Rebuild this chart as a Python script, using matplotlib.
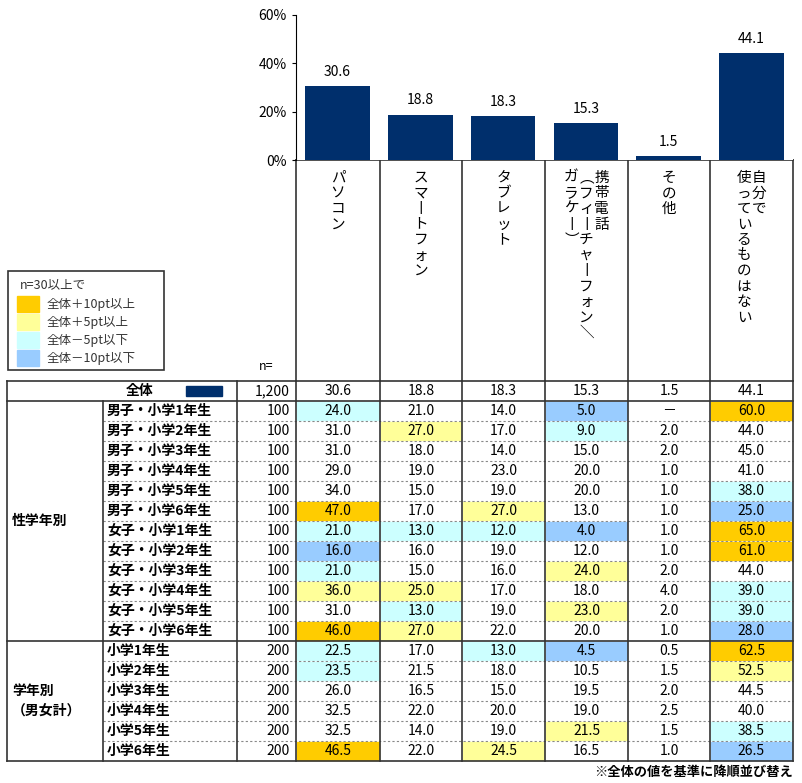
import matplotlib
matplotlib.use('Agg')
import matplotlib.pyplot as plt
from matplotlib.patches import Rectangle

plt.rcParams['font.family'] = ['Noto Sans CJK JP', 'DejaVu Sans']

categories = ['パソコン', 'スマートフォン', 'タブレット', '携帯電話\n（フィーチャーフォン／\nガラケー）', 'その他', '自分で\n使っているものはない']
total = [30.6, 18.8, 18.3, 15.3, 1.5, 44.1]
total_n = '1,200'
row_labels = ['男子・小学1年生', '男子・小学2年生', '男子・小学3年生', '男子・小学4年生', '男子・小学5年生', '男子・小学6年生',
              '女子・小学1年生', '女子・小学2年生', '女子・小学3年生', '女子・小学4年生', '女子・小学5年生', '女子・小学6年生',
              '小学1年生', '小学2年生', '小学3年生', '小学4年生', '小学5年生', '小学6年生']
row_n = [100] * 12 + [200] * 6
values = [
    [24.0, 21.0, 14.0, 5.0, None, 60.0],
    [31.0, 27.0, 17.0, 9.0, 2.0, 44.0],
    [31.0, 18.0, 14.0, 15.0, 2.0, 45.0],
    [29.0, 19.0, 23.0, 20.0, 1.0, 41.0],
    [34.0, 15.0, 19.0, 20.0, 1.0, 38.0],
    [47.0, 17.0, 27.0, 13.0, 1.0, 25.0],
    [21.0, 13.0, 12.0, 4.0, 1.0, 65.0],
    [16.0, 16.0, 19.0, 12.0, 1.0, 61.0],
    [21.0, 15.0, 16.0, 24.0, 2.0, 44.0],
    [36.0, 25.0, 17.0, 18.0, 4.0, 39.0],
    [31.0, 13.0, 19.0, 23.0, 2.0, 39.0],
    [46.0, 27.0, 22.0, 20.0, 1.0, 28.0],
    [22.5, 17.0, 13.0, 4.5, 0.5, 62.5],
    [23.5, 21.5, 18.0, 10.5, 1.5, 52.5],
    [26.0, 16.5, 15.0, 19.5, 2.0, 44.5],
    [32.5, 22.0, 20.0, 19.0, 2.5, 40.0],
    [32.5, 14.0, 19.0, 21.5, 1.5, 38.5],
    [46.5, 22.0, 24.5, 16.5, 1.0, 26.5],
]
groups = [('性学年別', 0, 12), ('学年別\n（男女計）', 12, 18)]
legend_items = [('全体＋10pt以上', '#FFCC00'), ('全体＋5pt以上', '#FFFF99'),
                ('全体－5pt以下', '#CCFFFF'), ('全体－10pt以下', '#99CCFF')]
NAVY = '#002F6C'

W, H = 802, 783
fig = plt.figure(figsize=(W / 100, H / 100), dpi=100)
ax = fig.add_axes([0, 0, 1, 1])
ax.set_xlim(0, W)
ax.set_ylim(H, 0)
ax.axis('off')

col_x = [296, 380, 462, 545, 628, 710, 793]
hdr_top, tbl_top, row_h = 160, 381, 20

# bar chart on top
bax = fig.add_axes([col_x[0] / W, 1 - hdr_top / H, (col_x[-1] - col_x[0]) / W, (hdr_top - 15) / H])
bax.bar(range(6), total, width=0.78, color=NAVY)
bax.set_xlim(-0.5, 5.5)
bax.set_ylim(0, 60)
bax.set_yticks([0, 20, 40, 60])
bax.set_yticklabels(['0%', '20%', '40%', '60%'], fontsize=10)
bax.set_xticks([])
for s in ['top', 'right', 'bottom']:
    bax.spines[s].set_visible(False)
bax.tick_params(axis='y', length=3)
for i, v in enumerate(total):
    bax.text(i, v + 3, f'{v:.1f}', ha='center', va='bottom', fontsize=10)

# header with vertical text
for i, cat in enumerate(categories):
    lines = cat.split('\n')
    cx = (col_x[i] + col_x[i + 1]) / 2
    nl = len(lines)
    for j, line in enumerate(lines):
        x = cx + (nl - 1) * 7.5 - j * 15
        for k, ch in enumerate(line):
            ch2 = {'ー': '丨', '（': '︵', '）': '︶', '／': '＼'}.get(ch, ch)
            ax.text(x, 178 + k * 15.5, ch2, ha='center', va='center', fontsize=10.5)
for x in col_x:
    ax.plot([x, x], [hdr_top, tbl_top], color='#333333', lw=1.2)
ax.plot([col_x[0], col_x[-1]], [hdr_top, hdr_top], color='#333333', lw=1.2)
ax.text(266, 366, 'n=', ha='center', va='center', fontsize=9)

# legend box
ax.add_patch(Rectangle((8, 271), 156, 99, fill=False, ec='#333333', lw=1.2))
ax.text(20, 285, 'n=30以上で', va='center', fontsize=9, color='#333333')
for i, (lab, c) in enumerate(legend_items):
    y = 304 + i * 18
    ax.add_patch(Rectangle((17, y - 8), 22, 16, color=c))
    ax.text(47, y, lab, va='center', fontsize=9, color='#333333')

# table body
n_rows = len(values)
tbl_bot = tbl_top + row_h * (n_rows + 1)


def cell_color(v, base):
    if v is None:
        return None
    d = v - base
    if d >= 10:
        return '#FFCC00'
    if d >= 5:
        return '#FFFF99'
    if d <= -10:
        return '#99CCFF'
    if d <= -5:
        return '#CCFFFF'
    return None


ax.text(140, tbl_top + 10, '全体', ha='center', va='center', fontsize=10, fontweight='bold')
ax.add_patch(Rectangle((186, tbl_top + 5), 36, 10, color=NAVY))
ax.text(290, tbl_top + 10, total_n, ha='right', va='center', fontsize=10)
for i, v in enumerate(total):
    ax.text((col_x[i] + col_x[i + 1]) / 2, tbl_top + 10, f'{v:.1f}', ha='center', va='center', fontsize=10)

for r, (lab, n, row) in enumerate(zip(row_labels, row_n, values)):
    y0 = tbl_top + row_h * (r + 1)
    yc = y0 + row_h / 2
    ax.text(107, yc, lab, va='center', fontsize=10, fontweight='bold')
    ax.text(290, yc, str(n), ha='right', va='center', fontsize=10)
    for i, v in enumerate(row):
        c = cell_color(v, total[i])
        if c:
            ax.add_patch(Rectangle((col_x[i] + 1, y0 + 1), col_x[i + 1] - col_x[i] - 2, row_h - 2, color=c, zorder=0))
        ax.text((col_x[i] + col_x[i + 1]) / 2, yc, '－' if v is None else f'{v:.1f}',
                ha='center', va='center', fontsize=10)
    if r not in (11, 17):
        ax.plot([103, col_x[-1]], [y0 + row_h, y0 + row_h], color='#888888', lw=0.8, ls=(0, (2, 2)))

for name, a, b in groups:
    ya = tbl_top + row_h * (a + 1)
    yb = tbl_top + row_h * (b + 1)
    ax.text(12, (ya + yb) / 2, name, va='center', fontsize=10, fontweight='bold', linespacing=1.5)
    ax.plot([7, col_x[-1]], [yb, yb], color='#333333', lw=1.2)

ax.plot([7, col_x[-1]], [tbl_top, tbl_top], color='#333333', lw=1.2)
ax.plot([7, col_x[-1]], [tbl_top + row_h] * 2, color='#333333', lw=1.2)
ax.plot([7, 7], [tbl_top, tbl_bot], color='#333333', lw=1.2)
ax.plot([103, 103], [tbl_top + row_h, tbl_bot], color='#333333', lw=1.2)
for x in [237] + col_x:
    ax.plot([x, x], [tbl_top, tbl_bot], color='#333333', lw=1.2)

ax.text(793, 772, '※全体の値を基準に降順並び替え', ha='right', va='center', fontsize=9.5, fontweight='bold')

fig.savefig('out.png', dpi=100)
